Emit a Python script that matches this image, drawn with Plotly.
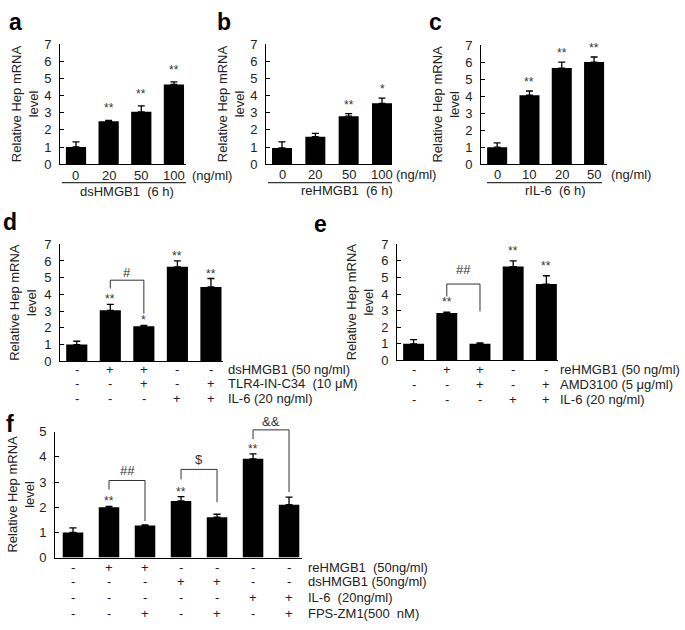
import plotly.graph_objects as go

W, H = 685, 630
FONT = "Arial, Liberation Sans, sans-serif"
TXT = "#222222"

# ---------------- data ----------------
a_doses = ["0", "20", "50", "100"]
a_vals = [1.0, 2.5, 3.05, 4.65]
a_err = [0.3, 0.05, 0.35, 0.15]
a_sig = ["", "**", "**", "**"]

b_doses = ["0", "20", "50", "100"]
b_vals = [0.95, 1.6, 2.8, 3.55]
b_err = [0.35, 0.2, 0.15, 0.3]
b_sig = ["", "", "**", "*"]

c_doses = ["0", "10", "20", "50"]
c_vals = [1.0, 4.05, 5.65, 6.0]
c_err = [0.25, 0.25, 0.35, 0.3]
c_sig = ["", "**", "**", "**"]

d_vals = [1.0, 3.05, 2.1, 5.65, 4.45]
d_err = [0.2, 0.35, 0.05, 0.35, 0.5]
d_sig = ["", "**", "*", "**", "**"]
d_rows = [
    ("dsHMGB1 (50 ng/ml)", ["-", "+", "+", "-", "-"]),
    ("TLR4-IN-C34  (10 μM)", ["-", "-", "+", "-", "+"]),
    ("IL-6 (20 ng/ml)", ["-", "-", "-", "+", "+"]),
]
d_brackets = [(1, 2, 4.85, 4.35, 2.85, "#", 5.33)]

e_vals = [1.0, 2.85, 1.0, 5.65, 4.6]
e_err = [0.25, 0.05, 0.05, 0.35, 0.5]
e_sig = ["", "**", "", "**", "**"]
e_rows = [
    ("reHMGB1 (50 ng/ml)", ["-", "+", "+", "-", "-"]),
    ("AMD3100 (5 μg/ml)", ["-", "-", "+", "-", "+"]),
    ("IL-6 (20 ng/ml)", ["-", "-", "-", "+", "+"]),
]
e_brackets = [(1, 2, 4.6, 3.85, 2.95, "##", 5.45)]

f_vals = [1.0, 2.0, 1.27, 2.25, 1.6, 3.92, 2.1]
f_err = [0.18, 0.03, 0.03, 0.17, 0.12, 0.2, 0.3]
f_sig = ["", "**", "", "**", "", "**", ""]
f_rows = [
    ("reHMGB1  (50ng/ml)", ["-", "+", "+", "-", "-", "-", "-"]),
    ("dsHMGB1 (50ng/ml)", ["-", "-", "-", "+", "+", "-", "-"]),
    ("IL-6  (20ng/ml)", ["-", "-", "-", "-", "-", "+", "+"]),
    ("FPS-ZM1(500  nM)", ["-", "-", "+", "-", "+", "-", "+"]),
]
f_brackets = [
    (1, 2, 3.06, 2.7, 1.45, "##", 3.45),
    (3, 4, 3.5, 3.1, 2.2, "$", 3.9),
    (5, 6, 5.07, 4.7, 2.6, "&&", 5.42),
]

ytitle = "Relative Hep mRNA<br>level"

# ---------------- layout (pixel geometry) ----------------
panels = [
    dict(letter="a", vals=a_vals, err=a_err, sig=a_sig, doses=a_doses, group="dsHMGB1  (6 h)",
         x0=60, x1=186, ytop=38, yzero=161, ymax=7, xr=[-0.49, 3.37], soff=15,
         title_x=25, letter_xy=(15, 15), tick_y=173, ul=(62, 186, 180), grp_xy=(127, 189), unit_x=190,
         rows=None, brackets=[], bw=0.62),
    dict(letter="b", vals=b_vals, err=b_err, sig=b_sig, doses=b_doses, group="reHMGB1  (6 h)",
         x0=266, x1=392, ytop=38, yzero=161, ymax=7, xr=[-0.48, 3.3], soff=12,
         title_x=231, letter_xy=(224, 15), tick_y=172, ul=(268, 392, 180), grp_xy=(347, 188), unit_x=394,
         rows=None, brackets=[], bw=0.6),
    dict(letter="c", vals=c_vals, err=c_err, sig=c_sig, doses=c_doses, group="rIL-6  (6 h)",
         x0=481, x1=607, ytop=39, yzero=161, ymax=7, xr=[-0.5, 3.4], soff=12,
         title_x=446, letter_xy=(435, 15), tick_y=172, ul=(487, 602, 180), grp_xy=(555, 188), unit_x=609,
         rows=None, brackets=[], bw=0.62),
    dict(letter="d", vals=d_vals, err=d_err, sig=d_sig, doses=None,
         x0=60, x1=223, ytop=243, yzero=363, ymax=7, xr=[-0.5, 4.36], soff=8,
         title_x=23, letter_xy=(10, 220), rows=d_rows, row_y=[371, 386, 401], row_x=227,
         brackets=d_brackets, bw=0.63),
    dict(letter="e", vals=e_vals, err=e_err, sig=e_sig, doses=None,
         x0=397, x1=558, ytop=243, yzero=362, ymax=7, xr=[-0.5, 4.35], soff=13,
         title_x=360, letter_xy=(320, 222), rows=e_rows, row_y=[371, 387, 402], row_x=559,
         brackets=e_brackets, bw=0.63),
    dict(letter="f", vals=f_vals, err=f_err, sig=f_sig, doses=None,
         x0=55, x1=302, ytop=435, yzero=564, ymax=5, xr=[-0.5, 6.36], soff=8,
         title_x=21, letter_xy=(10, 427), rows=f_rows, row_y=[574, 589, 605, 621], row_x=307,
         brackets=f_brackets, bw=0.57),
]


def PX(x):
    return x / W


def PY(y):
    return 1 - y / H


fig = go.Figure()
annotations = []
shapes = []
layout = {}

for i, p in enumerate(panels):
    k = "" if i == 0 else str(i + 1)
    xr, yr = "x" + k, "y" + k
    n = len(p["vals"])
    xs = list(range(n))
    fig.add_trace(go.Bar(
        x=xs, y=p["vals"], xaxis=xr, yaxis=yr, width=p["bw"],
        marker=dict(color="black", line=dict(width=0)),
        error_y=dict(type="data", symmetric=False, array=p["err"], arrayminus=[0] * n,
                     color="black", thickness=1.3, width=3.5),
        showlegend=False, hoverinfo="skip"))
    layout["xaxis" + k] = dict(
        domain=[PX(p["x0"]), PX(p["x1"])], range=p["xr"], anchor=yr,
        showline=True, linecolor="black", linewidth=1, ticks="", showticklabels=False,
        showgrid=False, zeroline=False, fixedrange=True)
    layout["yaxis" + k] = dict(
        domain=[PY(p["yzero"]), PY(p["ytop"])], range=[0, p["ymax"]], anchor=xr,
        showline=True, linecolor="black", linewidth=1, ticks="inside", ticklen=4,
        tickcolor="black", dtick=1, tickfont=dict(size=13, color=TXT, family=FONT),
        ticklabelstandoff=5, showgrid=False, zeroline=False, fixedrange=True)

    # significance stars
    for j, s in enumerate(p["sig"]):
        if s:
            annotations.append(dict(x=j, y=p["vals"][j] + p["err"][j], xref=xr, yref=yr,
                                    text=s, showarrow=False, yanchor="middle",
                                    yshift=p["soff"] - 3,
                                    font=dict(size=12, color="#333", family=FONT)))
    # y title
    annotations.append(dict(x=PX(p["title_x"]), y=(PY(p["yzero"]) + PY(p["ytop"])) / 2,
                            xref="paper", yref="paper", text=ytitle, textangle=-90,
                            showarrow=False, xanchor="center", yanchor="middle",
                            font=dict(size=13, color=TXT, family=FONT)))
    # panel letter
    lx, ly = p["letter_xy"]
    annotations.append(dict(x=PX(lx), y=PY(ly), xref="paper", yref="paper", text="<b>%s</b>" % p["letter"],
                            showarrow=False, xanchor="center", yanchor="middle",
                            font=dict(size=23, color="black", family=FONT)))

    if p["doses"]:
        for j, t in enumerate(p["doses"]):
            annotations.append(dict(x=j, y=PY(p["tick_y"]), xref=xr, yref="paper", text=t,
                                    showarrow=False, xanchor="center", yanchor="middle",
                                    font=dict(size=13, color=TXT, family=FONT)))
        annotations.append(dict(x=PX(p["unit_x"]), y=PY(p["tick_y"]), xref="paper", yref="paper",
                                text="(ng/ml)", showarrow=False, xanchor="left", yanchor="middle",
                                font=dict(size=13, color=TXT, family=FONT)))
        u0, u1, uy = p["ul"]
        shapes.append(dict(type="line", xref="paper", yref="paper", x0=PX(u0), x1=PX(u1),
                           y0=PY(uy), y1=PY(uy), line=dict(color="black", width=1)))
        gx, gy = p["grp_xy"]
        annotations.append(dict(x=PX(gx), y=PY(gy), xref="paper", yref="paper", text=p["group"],
                                showarrow=False, xanchor="center", yanchor="middle",
                                font=dict(size=13, color=TXT, family=FONT)))

    if p["rows"]:
        for (label, signs), ry in zip(p["rows"], p["row_y"]):
            for j, s in enumerate(signs):
                annotations.append(dict(x=j, y=PY(ry), xref=xr, yref="paper", text=s,
                                        showarrow=False, xanchor="center", yanchor="middle",
                                        font=dict(size=13, color=TXT, family=FONT)))
            annotations.append(dict(x=PX(p["row_x"]), y=PY(ry), xref="paper", yref="paper",
                                    text=label, showarrow=False, xanchor="left", yanchor="middle",
                                    borderpad=0,
                                    font=dict(size=13, color=TXT, family=FONT)))

    r0, r1 = p["xr"]
    for (bi, bj, top, left_end, right_end, lab, lab_y) in p["brackets"]:
        xd = lambda v: (v - r0) / (r1 - r0)
        yd = lambda v: v / p["ymax"]
        ln = dict(color="#333", width=1)
        refs = dict(xref=xr + " domain", yref=yr + " domain")
        shapes.append(dict(type="line", x0=xd(bi), x1=xd(bi), y0=yd(left_end), y1=yd(top), line=ln, **refs))
        shapes.append(dict(type="line", x0=xd(bi), x1=xd(bj), y0=yd(top), y1=yd(top), line=ln, **refs))
        shapes.append(dict(type="line", x0=xd(bj), x1=xd(bj), y0=yd(top), y1=yd(right_end), line=ln, **refs))
        annotations.append(dict(x=(bi + bj) / 2, y=yd(lab_y), xref=xr, yref=yr + " domain", text=lab,
                                showarrow=False, xanchor="center", yanchor="middle",
                                font=dict(size=13, color="#333", family=FONT)))

fig.update_layout(
    width=W, height=H, margin=dict(l=0, r=0, t=0, b=0),
    paper_bgcolor="white", plot_bgcolor="white",
    font=dict(family=FONT, color=TXT),
    annotations=annotations, shapes=shapes, bargap=0.3,
    **layout)

fig.write_html("out.html", config={"displayModeBar": False},
               post_script="document.body.style.margin='0';document.body.style.overflow='hidden';")
